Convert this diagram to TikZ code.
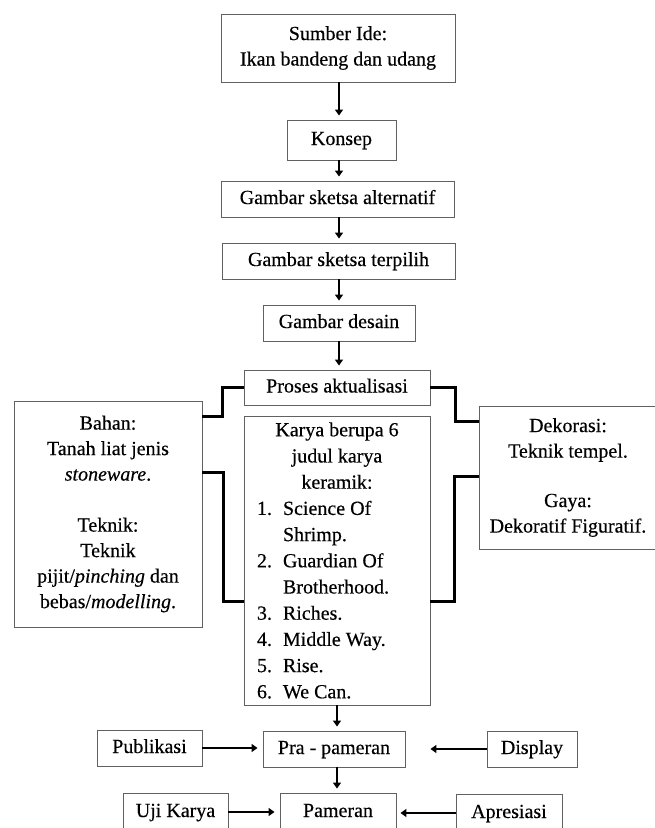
\documentclass[tikz,border=0pt]{standalone}
\usepackage{fontspec}
\setmainfont[FakeBold=0.35]{Liberation Serif}
\usetikzlibrary{arrows.meta,calc}
\tikzset{
  box/.style={draw=black!62, line width=0.9pt, fill=white, inner sep=0pt, align=center,
    font=\fontsize{20}{25.5}\selectfont},
  one/.style={box, text height=14pt, text depth=4pt},
  conn/.style={draw=black, line width=2.5pt},
  arr/.style={draw=black, line width=2.6pt, -{Triangle[length=6pt,width=8pt]}, shorten >=4pt},
}
\newcommand\knum[1]{\hspace*{10pt}\makebox[26pt][l]{#1}}
\newcommand\kcont{\hspace*{36pt}}
\begin{document}
\begin{tikzpicture}[x=1pt,y=-1pt]
\useasboundingbox (0,0) rectangle (654,828);
\node[box, minimum width=234pt, minimum height=68pt] (sumber) at (338,48) {Sumber Ide:\\Ikan bandeng dan udang};
\node[one, minimum width=109pt, minimum height=40pt] (konsep) at (341.5,140) {Konsep};
\node[one, minimum width=233pt, minimum height=36pt] (alt) at (337.5,199) {Gambar sketsa alternatif};
\node[one, minimum width=233pt, minimum height=36pt] (terpilih) at (338.5,261) {Gambar sketsa terpilih};
\node[one, minimum width=152pt, minimum height=36pt] (desain) at (339,323) {Gambar desain};
\node[one, minimum width=186pt, minimum height=35pt] (proses) at (337,387.5) {Proses aktualisasi};
\node[box, minimum width=188pt, minimum height=226pt] (bahan) at (108,514) {Bahan:\\Tanah liat jenis\\\textit{stoneware}.\\[25.5pt]Teknik:\\Teknik\\pijit/\textit{pinching} dan\\bebas/\textit{modelling}.};
\node[box, minimum width=186pt, minimum height=289pt] (karya) at (337,560.5) {\parbox{180pt}{\fontsize{20}{26.2}\selectfont\centering Karya berupa 6\\judul karya\\keramik:\par\raggedright
\knum{1.}Science Of\\\kcont Shrimp.\\\knum{2.}Guardian Of\\\kcont Brotherhood.\\\knum{3.}Riches.\\\knum{4.}Middle Way.\\\knum{5.}Rise.\\\knum{6.}We Can.}};
\node[box, minimum width=178pt, minimum height=143pt] (deko) at (568,477.5) {Dekorasi:\\Teknik tempel.\\[24pt]Gaya:\\Dekoratif Figuratif.};
\node[one, minimum width=142pt, minimum height=36pt] (pra) at (334,749) {Pra - pameran};
\node[one, minimum width=105pt, minimum height=36pt] (publikasi) at (149.5,748) {Publikasi};
\node[one, minimum width=90pt, minimum height=36pt] (display) at (532,749) {Display};
\node[one, minimum width=116pt, minimum height=38pt] (pameran) at (338,812) {Pameran};
\node[one, minimum width=105pt, minimum height=38pt] (uji) at (175.5,812) {Uji Karya};
\node[one, minimum width=106pt, minimum height=38pt] (apresiasi) at (509,813) {Apresiasi};
% vertical arrows
\draw[arr] (sumber.south -| 339,0) -- (konsep.north -| 339,0);
\draw[arr] (konsep.south -| 339,0) -- (alt.north -| 339,0);
\draw[arr] (alt.south -| 339,0) -- (terpilih.north -| 339,0);
\draw[arr] (terpilih.south -| 339,0) -- (desain.north -| 339,0);
\draw[arr] (desain.south -| 339,0) -- (proses.north -| 339,0);
\draw[arr] (karya.south -| 337,0) -- (pra.north -| 337,0);
\draw[arr] (pra.south -| 337,0) -- (pameran.north -| 337,0);
% brackets
\draw[conn] (proses.west) -- ++(-21,0) |- ([yshift=-16pt]bahan.north east);
\draw[conn] ([yshift=-72pt]bahan.north east) -- ++(21,0) |- ([yshift=-186pt]karya.north west);
\draw[conn] (proses.east) -- ++(25,0) |- ([yshift=-16pt]deko.north west);
\draw[conn] ([yshift=-71pt]deko.north west) -- ++(-24,0) |- ([yshift=-186pt]karya.north east);
% horizontal arrows
\draw[arr, shorten >=5pt] (publikasi.east) -- (publikasi.east -| pra.west);
\draw[arr, shorten >=25pt] (display.west) -- (display.west -| pra.east);
\draw[arr, shorten >=5pt] (uji.east) -- (uji.east -| pameran.west);
\draw[arr, shorten >=4pt] (apresiasi.west) -- (apresiasi.west -| pameran.east);
\end{tikzpicture}
\end{document}
